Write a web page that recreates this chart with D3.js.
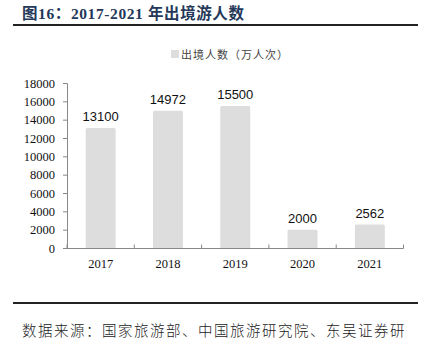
<!DOCTYPE html>
<html>
<head>
<meta charset="utf-8">
<script src="https://cdn.jsdelivr.net/npm/d3@7"></script>
<style>
  html, body { margin: 0; padding: 0; background: #fff; }
  svg { display: block; }
</style>
</head>
<body>
<svg id="chart" width="427" height="348"></svg>
<script>
// Outbound trips, 2017-2021 (10k person-trips)
const years = ["2017", "2018", "2019", "2020", "2021"];
const trips = [13100, 14972, 15500, 2000, 2562];
const yTicks = [0, 2000, 4000, 6000, 8000, 10000, 12000, 14000, 16000, 18000];
const seriesName = "出境人数（万人次）";
const titleText = "图16：2017-2021 年出境游人数";
const sourceText = "数据来源：国家旅游部、中国旅游研究院、东吴证券研";

const svg = d3.select("#chart");
const serif = "'Liberation Serif', 'Times New Roman', serif";
const cjk = "'Liberation Serif', 'Noto Sans CJK SC', sans-serif";

// Heading and rules
svg.append("text")
  .attr("x", 22).attr("y", 19)
  .attr("font-family", cjk)
  .attr("font-weight", "bold")
  .attr("font-size", 15.5)
  .attr("letter-spacing", 0.6)
  .attr("fill", "#24385a")
  .text(titleText);
svg.append("line")
  .attr("x1", 13).attr("x2", 418).attr("y1", 25).attr("y2", 25)
  .attr("stroke", "#222").attr("stroke-width", 2);
svg.append("line")
  .attr("x1", 13).attr("x2", 418).attr("y1", 303).attr("y2", 303)
  .attr("stroke", "#222").attr("stroke-width", 2);
svg.append("text")
  .attr("x", 22).attr("y", 336)
  .attr("font-family", "'Noto Sans CJK SC', sans-serif")
  .attr("font-size", 14.5)
  .attr("font-weight", 300)
  .attr("letter-spacing", 1.5)
  .attr("fill", "#222")
  .text(sourceText);

// Scales
const x = d3.scaleBand().domain(years).range([67, 403.5]).paddingInner(0.555).paddingOuter(0.2775);
const y = d3.scaleLinear().domain([0, 18000]).range([248, 83]);

// Bars
svg.append("g").selectAll("rect")
  .data(years)
  .join("rect")
  .attr("x", d => x(d))
  .attr("width", x.bandwidth())
  .attr("y", (d, i) => y(trips[i]))
  .attr("height", (d, i) => y(0) - y(trips[i]) + 1)
  .attr("rx", 1.5)
  .attr("fill", "#dddddd");

// Value labels
svg.append("g").selectAll("text")
  .data(years)
  .join("text")
  .attr("x", d => x(d) + x.bandwidth() / 2)
  .attr("y", (d, i) => y(trips[i]) - 7)
  .attr("text-anchor", "middle")
  .attr("font-family", "'Liberation Sans', Arial, sans-serif")
  .attr("font-size", 13)
  .attr("fill", "#111")
  .text((d, i) => trips[i]);

// Y axis
const yAxis = svg.append("g")
  .attr("transform", "translate(67,0)")
  .call(d3.axisLeft(y).tickValues(yTicks).tickSize(4).tickPadding(8).tickFormat(d3.format("d")));
yAxis.attr("font-family", serif).attr("font-size", 12.5);
yAxis.select(".domain").attr("stroke", "#888");
yAxis.selectAll(".tick line").attr("stroke", "#888");
yAxis.selectAll(".tick text")
  .style("font-family", serif).attr("fill", "#111");

// X axis with ticks at band edges
const xAxis = svg.append("g").attr("transform", "translate(0,248)");
xAxis.append("line")
  .attr("x1", 67).attr("x2", 403.5).attr("y1", 0.5).attr("y2", 0.5)
  .attr("stroke", "#888");
const step = x.step();
const edges = d3.range(years.length + 1).map(i => 67 + i * step);
xAxis.selectAll(".edge")
  .data(edges)
  .join("line")
  .attr("class", "edge")
  .attr("x1", d => d).attr("x2", d => d)
  .attr("y1", 0.5).attr("y2", -3.5)
  .attr("stroke", "#888");
xAxis.selectAll("text")
  .data(years)
  .join("text")
  .attr("x", d => x(d) + x.bandwidth() / 2)
  .attr("y", 20)
  .attr("text-anchor", "middle")
  .attr("font-family", serif)
  .attr("font-size", 12.5)
  .attr("fill", "#111")
  .text(d => d);

// Legend
svg.append("rect")
  .attr("x", 171).attr("y", 50).attr("width", 8).attr("height", 8)
  .attr("fill", "#dddddd");
svg.append("text")
  .attr("x", 181).attr("y", 58.5)
  .attr("font-family", "'Noto Sans CJK SC', sans-serif")
  .attr("font-size", 11)
  .attr("letter-spacing", 1)
  .attr("fill", "#444")
  .text(seriesName);
</script>
</body>
</html>
